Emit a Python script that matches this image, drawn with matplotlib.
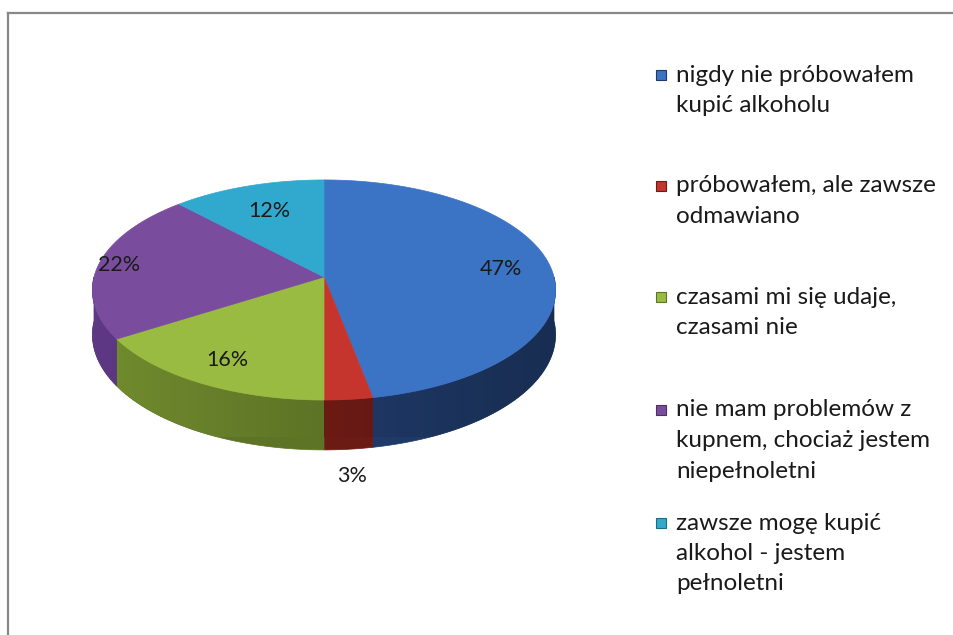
import numpy as np
import matplotlib
matplotlib.use("Agg")
import matplotlib.pyplot as plt
from matplotlib.patches import Polygon, Rectangle
from matplotlib.lines import Line2D
from matplotlib.colors import to_rgb

plt.rcParams['font.family'] = ['Lato', 'DejaVu Sans']

# dane
kategorie = [
    "nigdy nie próbowałem\nkupić alkoholu",
    "próbowałem, ale zawsze\nodmawiano",
    "czasami mi się udaje,\nczasami nie",
    "nie mam problemów z\nkupnem, chociaż jestem\nniepełnoletni",
    "zawsze mogę kupić\nalkohol - jestem\npełnoletni",
]
procenty = [47, 3, 16, 22, 12]

kolory_gora = ["#3b73c5", "#c5352d", "#9abb42", "#7a4c9e", "#31a9cf"]
kolory_bok = ["#1f3a68", "#6c1a14", "#5d7326", "#4d2e6c", "#1d6b85"]

# geometria elipsy (piksele)
CX, CY = 324, 277
A, B = 230, 108.5
K = 0.118      # perspektywa
GLEB = 44      # grubosc placka


def rzut(u, v, dz=0.0):
    s = 1.0 / (1.0 - K * v)
    return CX + A * u * s, CY + (B * v + dz) * s


def punkt(theta, r=1.0, dz=0.0):
    t = np.radians(theta)
    return rzut(r * np.sin(t), -r * np.cos(t), dz)


fig = plt.figure(figsize=(9.54, 6.35), dpi=100)
ax = fig.add_axes([0, 0, 1, 1])
ax.set_xlim(0, 954)
ax.set_ylim(635, 0)
ax.axis('off')

suma = float(sum(procenty))
granice = np.concatenate([[0], np.cumsum(procenty)]) / suma * 360.0

# boczne sciany (tylko przednia polowa), z gradientem w poziomie
xs = np.linspace(CX - A - 5, CX + A + 5, 300)
for i in range(len(procenty)):
    a0, a1 = max(granice[i], 90), min(granice[i + 1], 270)
    if a1 <= a0:
        continue
    kat = np.linspace(a0, a1, 120)
    pts = [punkt(t) for t in kat] + [punkt(t, dz=GLEB) for t in kat[::-1]]
    sciana = Polygon(pts, closed=True, facecolor=kolory_bok[i], edgecolor=kolory_bok[i], linewidth=0.5)
    ax.add_patch(sciana)
    f = 1.0 + 0.22 * (-(xs - CX) / A)
    grad = np.clip(np.array(to_rgb(kolory_bok[i]))[None, :] * f[:, None], 0, 1)
    im = ax.imshow(grad[None, :, :], extent=(xs[0], xs[-1], CY + 160, CY - 20),
                   aspect='auto', interpolation='bilinear', zorder=1.5)
    im.set_clip_path(sciana)

# gorne powierzchnie
for i in range(len(procenty)):
    kat = np.linspace(granice[i], granice[i + 1], max(int(granice[i + 1] - granice[i]), 2) + 1)
    pts = [rzut(0, 0)] + [punkt(t) for t in kat]
    ax.add_patch(Polygon(pts, closed=True, facecolor=kolory_gora[i],
                         edgecolor=kolory_gora[i], linewidth=0.5, zorder=2))

ax.set_xlim(0, 954)
ax.set_ylim(635, 0)

# etykiety danych
promien_etykiet = [0.78, 1.12, 0.8, 0.91, 0.7]
for i, p in enumerate(procenty):
    srodek = (granice[i] + granice[i + 1]) / 2
    dz = GLEB + 8 if promien_etykiet[i] > 1 else 0
    x, y = punkt(srodek, promien_etykiet[i], dz)
    ax.text(x, y, f"{p}%", fontsize=15.5, color="#1a1a1a", ha='center', va='center', zorder=3)

# legenda
legenda_y = [75, 186, 297, 410, 523]
for i, lab in enumerate(kategorie):
    y0 = legenda_y[i]
    ax.add_patch(Rectangle((656, y0 - 5), 10, 10, facecolor=kolory_gora[i],
                           edgecolor=kolory_bok[i], linewidth=0.8))
    for j, linia in enumerate(lab.split("\n")):
        ax.text(676, y0 + 30.5 * j, linia, fontsize=17.5, color="#1a1a1a",
                ha='left', va='center')

# ramka wykresu
fig.add_artist(Line2D([8 / 954, 8 / 954], [0, 1 - 13 / 635], color="#888888", linewidth=1.6))
fig.add_artist(Line2D([8 / 954, 1], [1 - 13 / 635, 1 - 13 / 635], color="#888888", linewidth=1.6))

fig.savefig("out.png", dpi=100)
